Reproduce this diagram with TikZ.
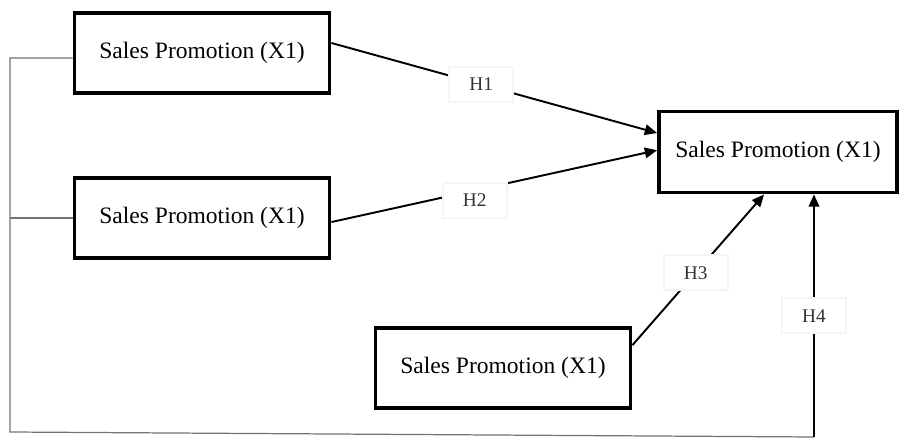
\documentclass[tikz,border=0pt]{standalone}
\usepackage{fontspec}
\setmainfont{Liberation Serif}
\usetikzlibrary{calc,positioning,arrows.meta}

\begin{document}
\begin{tikzpicture}[x=0.02cm,y=-0.02cm,
  var/.style={draw, line width=2.2pt, minimum width=5.1cm, minimum height=1.6cm,
    font=\fontsize{13.4}{16}\selectfont},
  hyp/.style={fill=white, draw=black!4, minimum width=1.28cm, minimum height=0.7cm,
    text=black!80, font=\fontsize{11}{13}\selectfont},
  arr/.style={line width=1.1pt, -{Triangle[length=7pt,width=6pt]}},
  link/.style={black!55, line width=0.7pt}]
  \useasboundingbox (0,0) rectangle (904,439);
  \node[var] (sp1) at (202,53) {Sales Promotion (X1)};
  \node[var] (sp2) at (202,218) {Sales Promotion (X1)};
  \node[var] (sp3) at (503,368) {Sales Promotion (X1)};
  \node[var, minimum width=4.76cm, minimum height=1.62cm] (sp4) at (778,152) {Sales Promotion (X1)};
  \coordinate (corner) at (10,432);
  \coordinate (foot) at (814,437);
  % feedback line round the left and bottom
  \draw[link] ([yshift=-2.8pt]sp1.west) -| (corner) -- (foot);
  \draw[link] (sp2.west) -- (sp2.west -| corner);
  % hypotheses
  \draw[arr] ([yshift=5.7pt]sp1.east) -- node[hyp, pos=0.46] (h1) {H1} ([yshift=10.8pt]sp4.west);
  \draw[arr] ([yshift=-2.3pt]sp2.east) -- node[hyp, pos=0.44, yshift=-5.7pt] (h2) {H2} ([yshift=1pt]sp4.west);
  \draw[arr] ([yshift=13pt]sp3.east) -- node[hyp, pos=0.48] (h3) {H3} ([xshift=-7.9pt]sp4.south);
  \draw[arr, line width=1.2pt] (foot) -- node[hyp, pos=0.5] (h4) {H4} (foot |- sp4.south);
\end{tikzpicture}
\end{document}
